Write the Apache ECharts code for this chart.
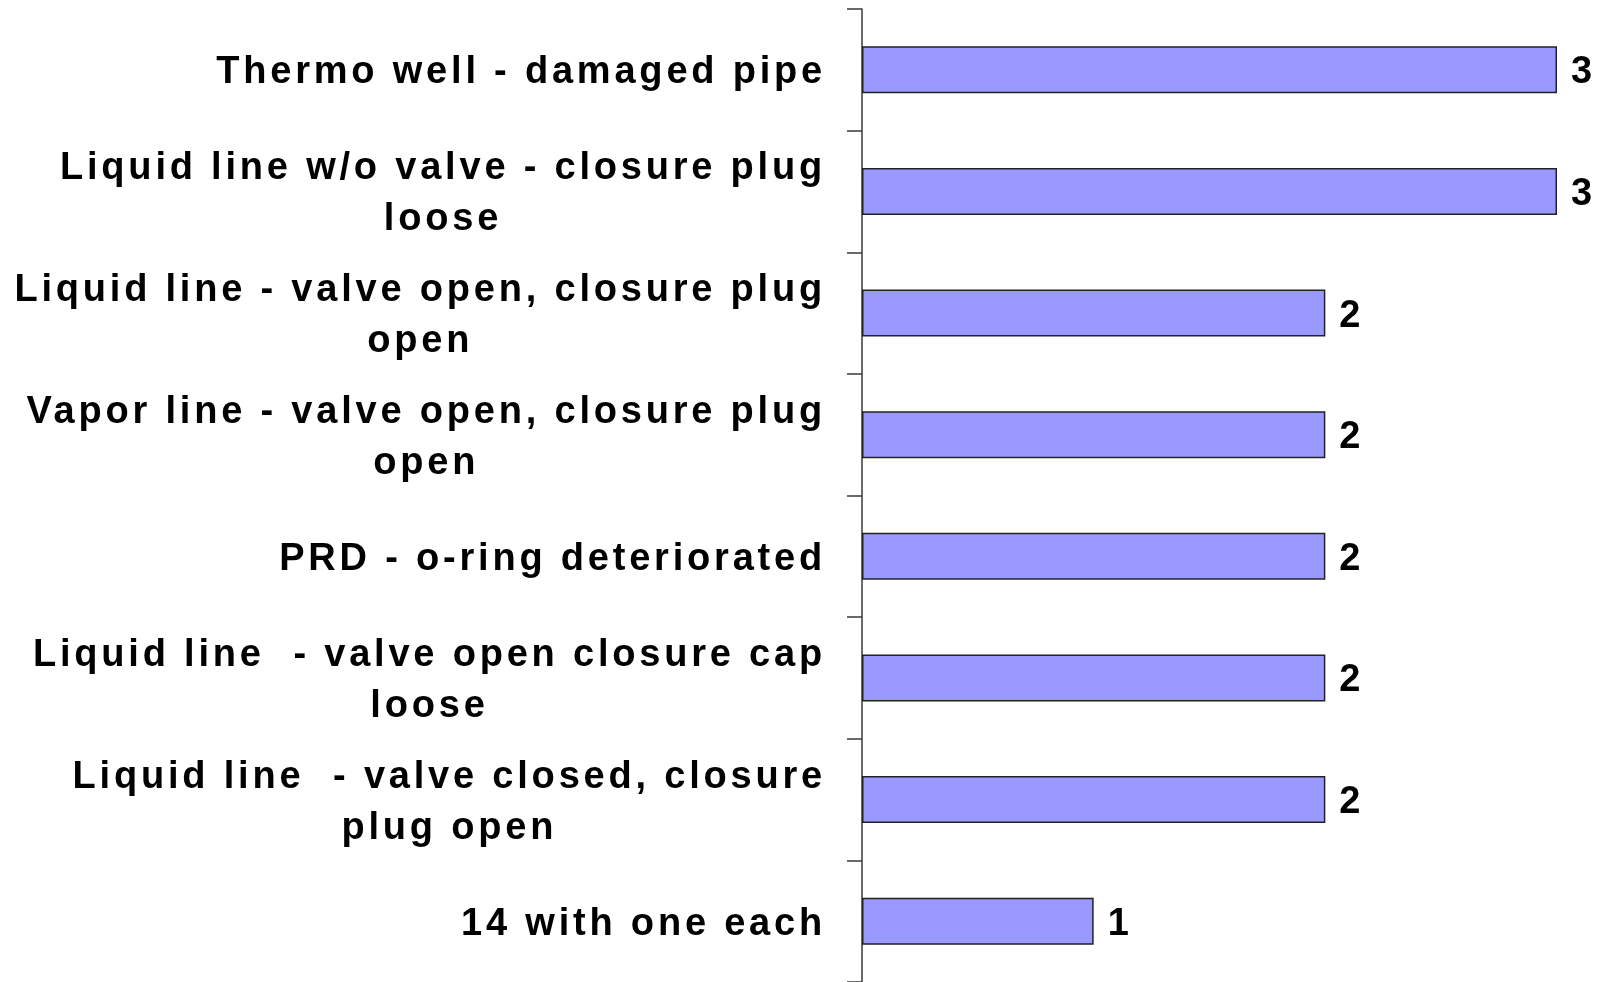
<!DOCTYPE html>
<html>
<head>
<meta charset="utf-8">
<script src="https://cdn.jsdelivr.net/npm/echarts@6/dist/echarts.min.js"></script>
<style>
	html, body { margin: 0; padding: 0; background: #fff; }
	#chart { width: 1602px; height: 982px; }
</style>
</head>
<body>
<div id="chart"></div>
<script>
// categories from top to bottom, line breaks as in the original labels
const categories = [
	'Thermo well - damaged pipe',
	'Liquid line w/o valve - closure plug\nloose',
	'Liquid line - valve open, closure plug\nopen',
	'Vapor line - valve open, closure plug\nopen',
	'PRD - o-ring deteriorated',
	'Liquid line  - valve open closure cap\nloose',
	'Liquid line  - valve closed, closure\nplug open',
	'14 with one each'
];
const counts = [3, 3, 2, 2, 2, 2, 2, 1];

const FONT = '"Liberation Sans", Arial, sans-serif';

// the original text is set wide; give canvas text a little letter spacing
// (applied to measuring too, so alignment stays right)
const LETTER_SPACING = '3.8px';
const proto = CanvasRenderingContext2D.prototype;
const origFill = proto.fillText;
const origMeasure = proto.measureText;
proto.fillText = function () {
	this.letterSpacing = LETTER_SPACING;
	return origFill.apply(this, arguments);
};
proto.measureText = function () {
	this.letterSpacing = LETTER_SPACING;
	return origMeasure.apply(this, arguments);
};

const chart = echarts.init(document.getElementById('chart'));

chart.setOption({
	backgroundColor: '#fff',
	animation: false,
	grid: {
		left: 862,
		right: 45,
		top: 9,
		bottom: 0
	},
	xAxis: {
		type: 'value',
		min: 0,
		max: 3,
		show: false,
		splitLine: {show: false}
	},
	yAxis: {
		type: 'category',
		inverse: true,
		data: categories,
		axisLine: {
			show: true,
			lineStyle: {color: '#3a3a3a', width: 1.5}
		},
		axisTick: {
			show: true,
			length: 15,
			lineStyle: {color: '#3a3a3a', width: 1.5}
		},
		axisLabel: {
			margin: 36,
			padding: [6, 0, 0, 0],
			color: '#000',
			formatter: v => v.split('\n').map(l => '{c|' + l + '}').join('\n'),
			rich: {
				c: {
					align: 'center',
					fontFamily: FONT,
					fontWeight: 'bold',
					fontSize: 38,
					lineHeight: 51,
					color: '#000'
				}
			}
		}
	},
	series: [{
		type: 'bar',
		data: counts,
		barWidth: 47,
		itemStyle: {
			color: '#9999ff',
			borderColor: '#222',
			borderWidth: 1.5
		},
		label: {
			show: true,
			position: 'right',
			distance: 14,
			offset: [0, 3],
			color: '#000',
			fontFamily: FONT,
			fontWeight: 'bold',
			fontSize: 38
		}
	}]
});
</script>
</body>
</html>
